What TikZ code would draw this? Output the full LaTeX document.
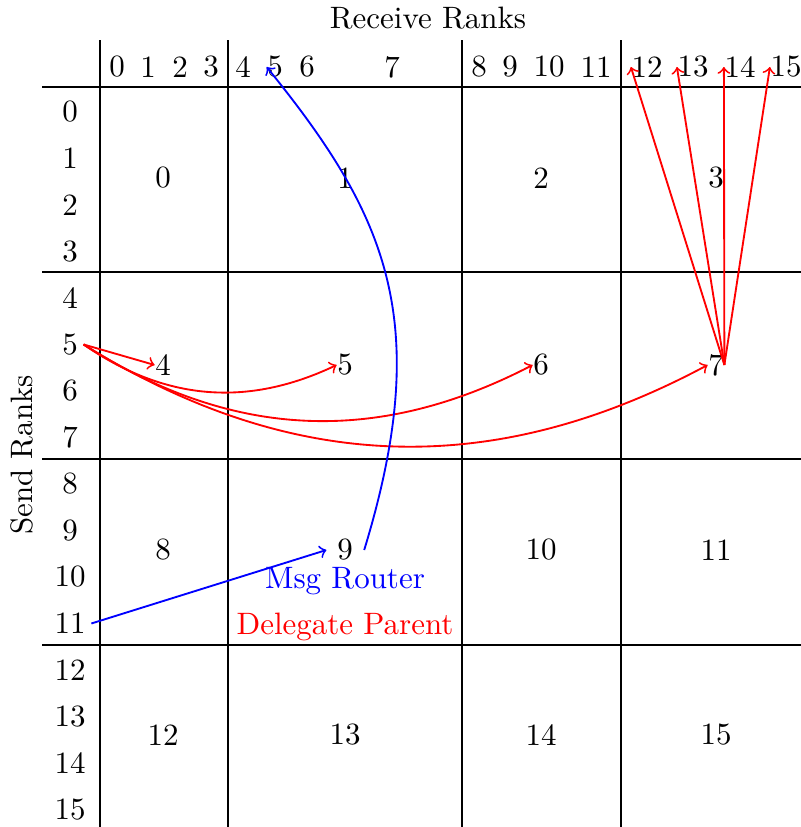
\documentclass[tikz,border=0pt]{standalone}
\usepackage{tikz}

\begin{document}
\begin{tikzpicture}[x=0.323pt,y=0.323pt,
    num/.style={inner sep=0pt},
    rowlab/.style={inner sep=1.7pt},
    delegate/.style={->,red,semithick},
    router/.style={->,blue,semithick}]
    \useasboundingbox (0,0) rectangle (801,827);
    % grid of blocks
    \foreach \x in {100,228,462,621} \draw (\x,0) -- (\x,787);
    \foreach \y in {740,555,368,182} \draw (42,\y) -- (801,\y);
    \node (recv) at (428,809) {Receive Ranks};
    \node[rotate=90] (send) at (22,372) {Send Ranks};

    % receive ranks along the top, send ranks down the side
    \foreach \i/\x in {0/117,1/148,2/180,3/211,4/243,5/275,6/307,7/392,
                       8/479,9/510,10/549,11/596,12/647,13/693,14/740,15/786}
        \node[num] (c\i) at (\x,760) {\i};
    \foreach \i in {0,...,15}
        \node[rowlab] (r\i) at (70,715-46.5*\i) {\i};

    % block numbers
    \foreach \row/\y in {0/649,1/462,2/277,3/92}
        \foreach \col/\x in {0/163,1/345,2/541,3/716} {
            \pgfmathtruncatemacro{\k}{4*\row+\col}
            \node[num] (n\k) at (\x,\y) {\k};
        }
    \node[blue] (router) at (345,246) {Msg Router};
    \node[red] (parent) at (345,200) {Delegate Parent};

    % delegate parent
    \draw[delegate] (r5.east) -- (n4.west);
    \foreach \k in {5,6,7}
        \draw[delegate] (r5.east) to[bend right=30] (n\k.west);
    \foreach \i in {12,...,15}
        \draw[delegate] (n7.east) -- (c\i.west);

    % msg router
    \draw[router] (r11.east) -- ([xshift=-3.3pt]n9.west);
    \draw[router] ([xshift=3.5pt]n9.east) .. controls +(73:240) and +(-51:190) .. (c5.west);
\end{tikzpicture}
\end{document}
